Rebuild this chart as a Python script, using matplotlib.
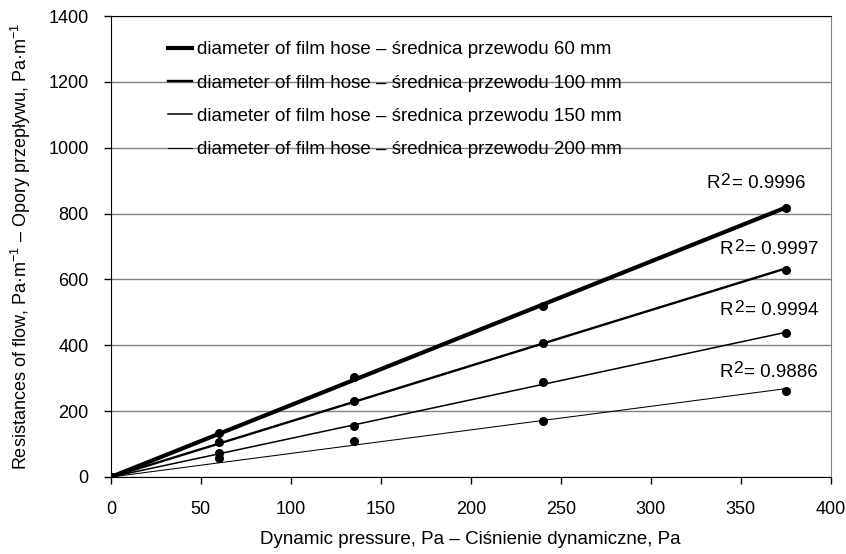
import matplotlib
matplotlib.use("Agg")
import matplotlib.pyplot as plt
import matplotlib.transforms as mtransforms
import numpy as np

plt.rcParams['font.family'] = ['Liberation Sans', 'DejaVu Sans']
plt.rcParams['mathtext.fontset'] = 'custom'
plt.rcParams['mathtext.rm'] = 'Liberation Sans'

x_vals = [0, 60, 135, 240, 375]
y_60 = [0, 135, 305, 519, 817]
y_100 = [0, 106, 231, 408, 630]
y_150 = [0, 72, 155, 288, 436]
y_200 = [0, 59, 110, 170, 262]
labels = ["diameter of film hose – średnica przewodu 60 mm",
          "diameter of film hose – średnica przewodu 100 mm",
          "diameter of film hose – średnica przewodu 150 mm",
          "diameter of film hose – średnica przewodu 200 mm"]
r2_texts = ["0.9996", "0.9997", "0.9994", "0.9886"]
r2_pos = [(385.7, 877), (393, 677), (393, 492), (393, 304)]
widths = [3.0, 1.7, 1.1, 0.75]

FS = 13

fig = plt.figure(figsize=(8.46, 5.54), dpi=100)
ax = fig.add_axes([0.131, 0.139, 0.851, 0.832])

series = [y_60, y_100, y_150, y_200]
xa = np.array(x_vals, dtype=float)
handles = []
for ys, lw, lab in zip(series, widths, labels):
    ya = np.array(ys, dtype=float)
    slope = (xa * ya).sum() / (xa * xa).sum()
    xl = np.array([0, xa.max()])
    h, = ax.plot(xl, slope * xl, color='black', lw=lw, label=lab, zorder=3)
    ax.plot(xa, ya, 'o', color='black', ms=5.5, zorder=4)
    handles.append(h)

ax.set_xlim(0, 400)
ax.set_ylim(0, 1400)
ax.set_xticks(np.arange(0, 401, 50))
ax.set_yticks(np.arange(0, 1401, 200))
ax.yaxis.grid(True, color='#808080', lw=1)
ax.set_axisbelow(True)
ax.tick_params(direction='out', length=5, labelsize=FS, width=1)
ax.tick_params(axis='x', pad=12)
ax.tick_params(axis='y', pad=11)
for s in ['left', 'bottom', 'top']:
    ax.spines[s].set_color('black')
ax.spines['right'].set_color('#808080')
ax.set_xlabel('Dynamic pressure, Pa – Ciśnienie dynamiczne, Pa', fontsize=13.5, labelpad=10)
ax.set_ylabel(r'Resistances of flow, Pa·m$^{\mathregular{-1}}$ – Opory przepływu, Pa·m$^{\mathregular{-1}}$',
              fontsize=13, labelpad=11)

leg = ax.legend(handles=handles, loc='upper left', bbox_to_anchor=(0.056, 0.982), frameon=False,
                fontsize=13.5, handlelength=1.3, handletextpad=0.22, labelspacing=0.86)

fig.canvas.draw()
renderer = fig.canvas.get_renderer()
for t, (px, py) in zip(r2_texts, r2_pos):
    main = ax.text(px, py, '= ' + t, ha='right', va='baseline', fontsize=13.5)
    bb = main.get_window_extent(renderer)
    w = bb.width * 72.0 / fig.dpi
    tr2 = mtransforms.offset_copy(ax.transData, fig=fig, x=-w - 1.0, y=2.5, units='points')
    sup = ax.text(px, py, '2', ha='right', va='baseline', fontsize=12.5, transform=tr2)
    bb2 = sup.get_window_extent(renderer)
    w2 = bb2.width * 72.0 / fig.dpi
    trR = mtransforms.offset_copy(ax.transData, fig=fig, x=-w - w2 - 1.5, y=0, units='points')
    ax.text(px, py, 'R', ha='right', va='baseline', fontsize=13.5, transform=trR)

fig.savefig('out.png', dpi=100)
